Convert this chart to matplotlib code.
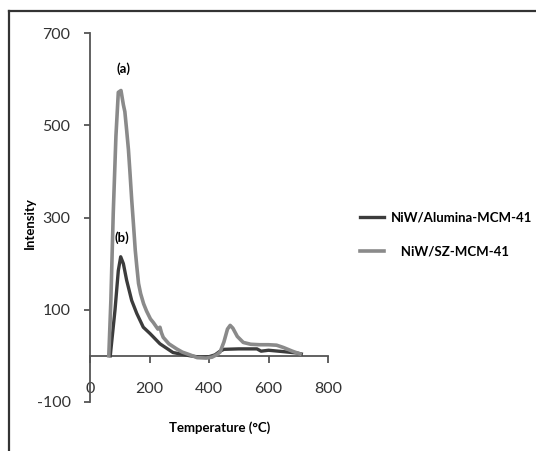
import matplotlib.pyplot as plt
from matplotlib.lines import Line2D

# NiW/SZ-MCM-41 (grey)
sz_temp = [63, 70, 78, 87, 95, 104, 112, 117, 123, 129, 134, 140, 146, 152, 157, 163,
           170, 180, 190, 203, 213, 228, 235, 240, 246, 265, 291, 310, 336, 360, 390,
           410, 425, 437, 450, 462, 471, 480, 495, 515, 540, 570, 600, 627, 650, 680, 706]
sz_val = [0, 120, 310, 477, 572, 576, 545, 530, 490, 448, 400, 339, 285, 229, 195, 157,
          135, 113, 97, 80, 72, 58, 62, 50, 40, 26, 15, 8, 2, -4, -5,
          -3, 2, 8, 30, 58, 66, 60, 42, 29, 25, 24, 24, 23, 18, 10, 4]

# NiW/Alumina-MCM-41 (dark)
al_temp = [68, 76, 84, 95, 103, 112, 123, 140, 157, 179, 202, 235, 279, 336, 370, 400,
           420, 437, 450, 500, 561, 575, 600, 650, 696, 710]
al_val = [0, 50, 100, 185, 215, 200, 164, 120, 92, 62, 48, 26, 7, 0, -3, -2,
          2, 10, 14, 15, 15, 10, 12, 9, 6, 4]

x_ticks = [0, 200, 400, 600, 800]
y_ticks = [-100, 100, 300, 500, 700]

plt.rcParams['font.family'] = ['Lato', 'DejaVu Sans']
plt.rcParams['axes.unicode_minus'] = False

fig = plt.figure(figsize=(5.36, 4.51), dpi=100)
ax = fig.add_axes([0.168, 0.109, 0.444, 0.817])

ax.plot(al_temp, al_val, color='#3c3c3c', lw=2.4, label='NiW/Alumina-MCM-41', zorder=3)
ax.plot(sz_temp, sz_val, color='#8a8a8a', lw=2.6, label='   NiW/SZ-MCM-41', zorder=4)

ax.set_xlim(0, 800)
ax.set_ylim(-100, 700)
ax.set_xticks(x_ticks)
ax.set_yticks(y_ticks)

for s in ['top', 'right']:
    ax.spines[s].set_visible(False)
ax.spines['bottom'].set_position(('data', 0))
for s in ['left', 'bottom']:
    ax.spines[s].set_color('#555555')
    ax.spines[s].set_linewidth(1.3)

ax.tick_params(axis='y', direction='out', length=4, width=1.3, color='#555555',
               labelsize=11.5, pad=10, labelcolor='#333333')
ax.tick_params(axis='x', direction='out', length=5, width=1.3, color='#555555',
               labelsize=11.5, pad=14, labelcolor='#333333')

ax.text(111, 623, '(a)', ha='center', va='center', fontsize=9.5, fontweight='bold')
ax.text(108, 256, '(b)', ha='center', va='center', fontsize=9.5, fontweight='bold')

fig.text(0.056, 0.505, 'Intensity', rotation=90, ha='center', va='center',
         fontsize=9.5, fontweight='bold')
fig.text(0.41, 0.051, 'Temperature (°C)', ha='center', va='center',
         fontsize=9.5, fontweight='bold')

leg = fig.legend(loc='upper left', bbox_to_anchor=(0.665, 0.54), frameon=False,
                 handlelength=1.8, handletextpad=0.5, labelspacing=1.65,
                 borderaxespad=0, borderpad=0.3,
                 prop={'size': 9.5, 'weight': 'bold'})

# outer frame (left and top edges only)
fig.add_artist(Line2D([0.016, 0.016], [0.0, 0.976], transform=fig.transFigure,
                      color='#333333', lw=1.6))
fig.add_artist(Line2D([0.016, 1.0], [0.976, 0.976], transform=fig.transFigure,
                      color='#333333', lw=1.6))

fig.savefig('out.png', dpi=100)
